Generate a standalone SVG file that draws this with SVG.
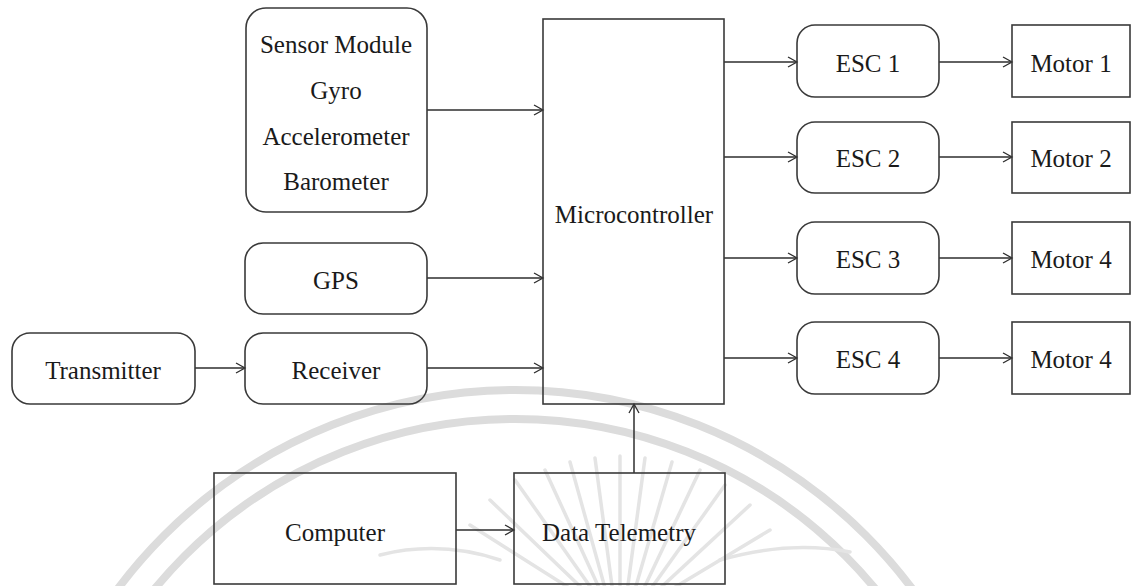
<svg xmlns="http://www.w3.org/2000/svg" width="1132" height="586" viewBox="0 0 1132 586">
<style>
.box{fill:none;stroke:#3a3a3a;stroke-width:1.6}
.lbl{font-family:"Liberation Serif","Times New Roman",serif;font-size:25px;fill:#1a1a1a;text-anchor:middle}
.wm{fill:none;stroke:#dcdcdc;stroke-width:8}
.ray{fill:none;stroke:#e4e4e4;stroke-width:3.5;stroke-linecap:round}
.edge{fill:none;stroke:#2e2e2e;stroke-width:1.5}
</style>
<defs>
<marker id="arr" markerWidth="12" markerHeight="12" refX="10" refY="6" orient="auto" markerUnits="userSpaceOnUse">
<path d="M1,1 L10,6 L1,11" fill="none" stroke="#2e2e2e" stroke-width="1.3"/>
</marker>
</defs>
<rect width="1132" height="586" fill="#ffffff"/>
<g id="watermark">
<circle class="wm" cx="515" cy="886" r="496"/>
<circle class="wm" cx="515" cy="886" r="467"/>
<g class="ray">
<line x1="600" y1="590" x2="545" y2="470"/>
<line x1="605" y1="588" x2="570" y2="462"/>
<line x1="612" y1="586" x2="595" y2="458"/>
<line x1="620" y1="585" x2="620" y2="456"/>
<line x1="628" y1="585" x2="645" y2="458"/>
<line x1="636" y1="586" x2="672" y2="462"/>
<line x1="644" y1="588" x2="700" y2="470"/>
<line x1="594" y1="592" x2="515" y2="480"/>
<line x1="650" y1="590" x2="725" y2="485"/>
<line x1="588" y1="594" x2="490" y2="500"/>
<line x1="656" y1="592" x2="750" y2="505"/>
<line x1="582" y1="596" x2="470" y2="525"/>
<line x1="662" y1="595" x2="770" y2="530"/>
<path d="M380,555 Q440,540 500,560"/>
<path d="M720,560 Q790,540 850,552"/>
</g>
</g>
<g id="connectors">
<line class="edge" x1="427" y1="110" x2="543" y2="110" marker-end="url(#arr)"/>
<line class="edge" x1="427" y1="278" x2="543" y2="278" marker-end="url(#arr)"/>
<line class="edge" x1="195" y1="368" x2="245" y2="368" marker-end="url(#arr)"/>
<line class="edge" x1="427" y1="368" x2="543" y2="368" marker-end="url(#arr)"/>
<line class="edge" x1="724" y1="62" x2="797" y2="62" marker-end="url(#arr)"/>
<line class="edge" x1="724" y1="157" x2="797" y2="157" marker-end="url(#arr)"/>
<line class="edge" x1="724" y1="258" x2="797" y2="258" marker-end="url(#arr)"/>
<line class="edge" x1="724" y1="358" x2="797" y2="358" marker-end="url(#arr)"/>
<line class="edge" x1="939" y1="62" x2="1012" y2="62" marker-end="url(#arr)"/>
<line class="edge" x1="939" y1="157" x2="1012" y2="157" marker-end="url(#arr)"/>
<line class="edge" x1="939" y1="258" x2="1012" y2="258" marker-end="url(#arr)"/>
<line class="edge" x1="939" y1="358" x2="1012" y2="358" marker-end="url(#arr)"/>
<line class="edge" x1="456" y1="530" x2="514" y2="530" marker-end="url(#arr)"/>
<line class="edge" x1="634" y1="473" x2="634" y2="404" marker-end="url(#arr)"/>
</g>
<g id="sensor">
<rect class="box" x="246" y="8" width="181" height="204" rx="20"/>
<text class="lbl" x="336" y="53">Sensor Module</text>
<text class="lbl" x="336" y="99">Gyro</text>
<text class="lbl" x="336" y="145">Accelerometer</text>
<text class="lbl" x="336" y="190">Barometer</text>
</g>
<g id="gps">
<rect class="box" x="245" y="243" width="182" height="71" rx="18"/>
<text class="lbl" x="336" y="289">GPS</text>
</g>
<g id="transmitter">
<rect class="box" x="12" y="333" width="183" height="71" rx="18"/>
<text class="lbl" x="103" y="379">Transmitter</text>
</g>
<g id="receiver">
<rect class="box" x="245" y="333" width="182" height="71" rx="18"/>
<text class="lbl" x="336" y="379">Receiver</text>
</g>
<g id="microcontroller">
<rect class="box" x="543" y="19" width="181" height="385"/>
<text class="lbl" x="634" y="223">Microcontroller</text>
</g>
<g id="esc1">
<rect class="box" x="797" y="25" width="142" height="72" rx="18"/>
<text class="lbl" x="868" y="72">ESC 1</text>
</g>
<g id="esc2">
<rect class="box" x="797" y="122" width="142" height="71" rx="18"/>
<text class="lbl" x="868" y="167">ESC 2</text>
</g>
<g id="esc3">
<rect class="box" x="797" y="222" width="142" height="72" rx="18"/>
<text class="lbl" x="868" y="268">ESC 3</text>
</g>
<g id="esc4">
<rect class="box" x="797" y="322" width="142" height="72" rx="18"/>
<text class="lbl" x="868" y="368">ESC 4</text>
</g>
<g id="motor1">
<rect class="box" x="1012" y="25" width="118" height="72"/>
<text class="lbl" x="1071" y="72">Motor 1</text>
</g>
<g id="motor2">
<rect class="box" x="1012" y="122" width="118" height="71"/>
<text class="lbl" x="1071" y="167">Motor 2</text>
</g>
<g id="motor3">
<rect class="box" x="1012" y="222" width="118" height="72"/>
<text class="lbl" x="1071" y="268">Motor 4</text>
</g>
<g id="motor4">
<rect class="box" x="1012" y="322" width="118" height="72"/>
<text class="lbl" x="1071" y="368">Motor 4</text>
</g>
<g id="computer">
<rect class="box" x="214" y="473" width="242" height="111"/>
<text class="lbl" x="335" y="541">Computer</text>
</g>
<g id="telemetry">
<rect class="box" x="514" y="473" width="211" height="111"/>
<text class="lbl" x="619" y="541">Data Telemetry</text>
</g>
</svg>
